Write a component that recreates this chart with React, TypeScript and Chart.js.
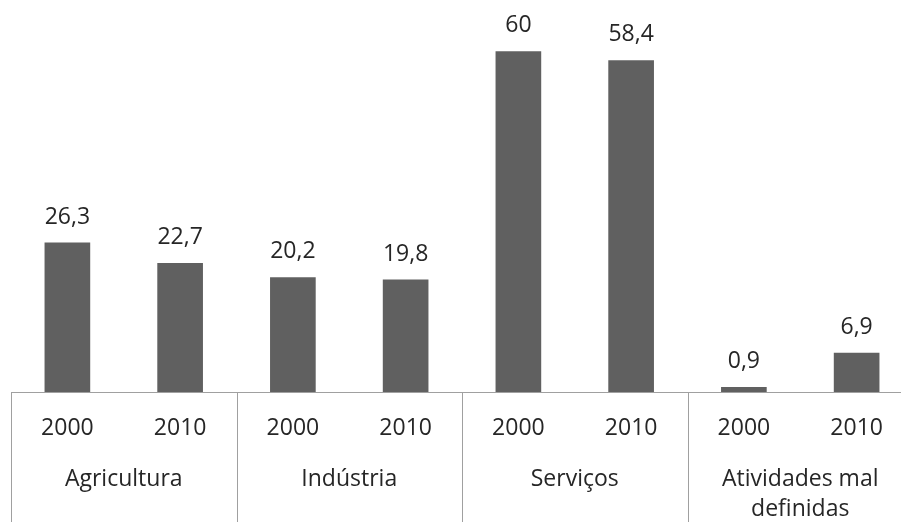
import React, { useEffect, useRef } from "react";
import { Chart, registerables } from "chart.js";

Chart.register(...registerables);

const groups: string[][] = [["Agricultura"], ["Indústria"], ["Serviços"], ["Atividades mal", "definidas"]];
const years: string[] = ["2000", "2010"];
const values: number[] = [26.3, 22.7, 20.2, 19.8, 60, 58.4, 0.9, 6.9];

const labels: string[] = groups.flatMap((g) => years.map((y) => `${g.join(" ")} ${y}`));

const FONT = '23px "Open Sans"';
const TEXT = "#262626";
const LINE = "#a0a0a0";

const fmt = (v: number) => String(v).replace(".", ",");

const overlay = {
  id: "overlay",
  afterDraw(chart: any) {
    const { ctx, chartArea } = chart;
    const xs = chart.scales.x;
    const bottom = chartArea.bottom;
    const n = labels.length;
    const step = xs.getPixelForValue(1) - xs.getPixelForValue(0);
    ctx.save();
    // axis line
    ctx.strokeStyle = LINE;
    ctx.lineWidth = 1;
    ctx.beginPath();
    ctx.moveTo(chartArea.left, Math.round(bottom) + 0.5);
    ctx.lineTo(chartArea.right, Math.round(bottom) + 0.5);
    ctx.stroke();
    // group separators
    for (let g = 0; g <= groups.length; g++) {
      const idx = g * years.length;
      const px = idx < n ? xs.getPixelForValue(idx) - step / 2 : xs.getPixelForValue(n - 1) + step / 2;
      const x = Math.round(px) + 0.5;
      ctx.beginPath();
      ctx.moveTo(x, Math.round(bottom));
      ctx.lineTo(x, chart.height);
      ctx.stroke();
    }
    ctx.fillStyle = TEXT;
    ctx.font = FONT;
    ctx.textAlign = "center";
    ctx.textBaseline = "alphabetic";
    // year labels
    for (let i = 0; i < n; i++) {
      ctx.fillText(years[i % years.length], xs.getPixelForValue(i), bottom + 43);
    }
    // group labels
    groups.forEach((lines, g) => {
      const a = xs.getPixelForValue(g * years.length);
      const b = xs.getPixelForValue(g * years.length + years.length - 1);
      const cx = (a + b) / 2;
      lines.forEach((t, k) => ctx.fillText(t, cx, bottom + 94 + k * 30));
    });
    // value labels
    const meta = chart.getDatasetMeta(0);
    meta.data.forEach((el: any, i: number) => {
      ctx.fillText(fmt(values[i]), el.x, el.y - 19);
    });
    ctx.restore();
  },
};

export default function App() {
  const ref = useRef<HTMLCanvasElement | null>(null);
  useEffect(() => {
    if (!ref.current) return;
    const chart = new Chart(ref.current, {
      type: "bar",
      data: {
        labels,
        datasets: [
          {
            data: values,
            backgroundColor: "#606060",
            borderWidth: 0,
            barPercentage: 0.405,
            categoryPercentage: 1,
          },
        ],
      },
      options: {
        animation: false,
        responsive: true,
        maintainAspectRatio: false,
        layout: { padding: { left: 11, right: 17, top: 0, bottom: 130 } },
        plugins: { legend: { display: false }, tooltip: { enabled: false } },
        scales: {
          x: { display: false },
          y: { display: false, min: 0, max: 69 },
        },
      },
      plugins: [overlay],
    });
    return () => chart.destroy();
  }, []);
  return (
    <div style={{ position: "fixed", left: 0, top: 0, width: 901, height: 522, overflow: "hidden", background: "#fff" }}>
      <div style={{ position: "relative", width: 930, height: 522 }}>
        <canvas ref={ref} />
      </div>
    </div>
  );
}
